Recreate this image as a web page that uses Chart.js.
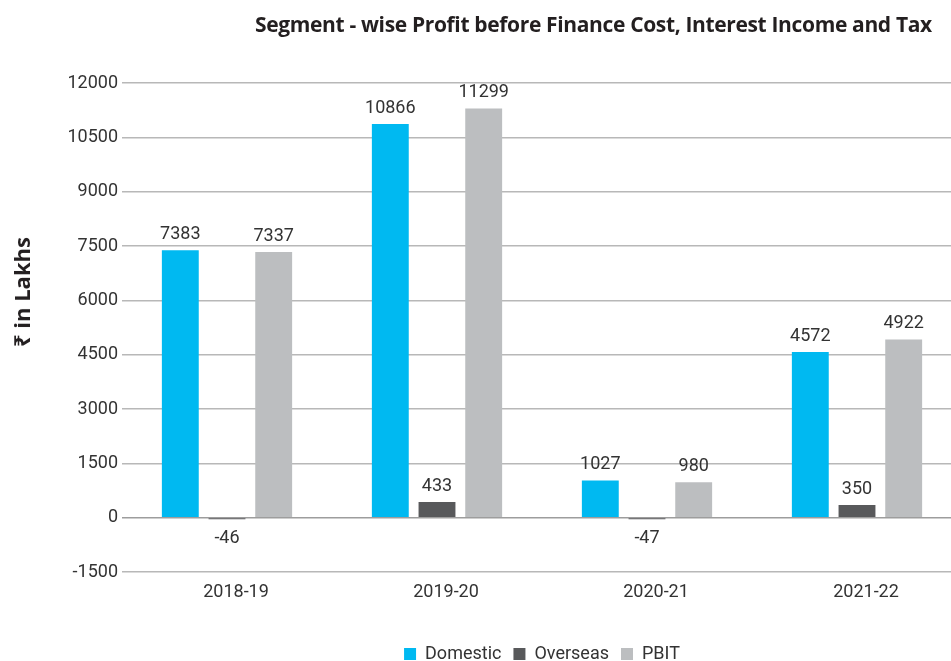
<!DOCTYPE html>
<html>
<head>
<meta charset="utf-8">
<script src="https://cdn.jsdelivr.net/npm/chart.js@4.4.1/dist/chart.umd.min.js"></script>
<style>
  html, body { margin: 0; padding: 0; background: #fff; overflow: hidden; }
  #wrap { position: relative; width: 951px; height: 661px; overflow: hidden; }
  #chartTitle {
    position: absolute; left: 255px; top: 10px;
    font-family: "Open Sans", Roboto, sans-serif; font-weight: bold; font-size: 21px;
    color: #231f20; white-space: nowrap; letter-spacing: -0.35px;
  }
  #yTitle {
    position: absolute; left: 21px; top: 292px;
    transform: translate(-50%, -50%) rotate(-90deg);
    font-family: "Open Sans", "Noto Sans", sans-serif; font-weight: bold; font-size: 22px;
    color: #231f20; white-space: nowrap;
  }
  canvas { position: absolute; left: 0; top: 0; }
</style>
</head>
<body>
<div id="wrap">
  <canvas id="segChart" width="962" height="673"></canvas>
  <div id="chartTitle">Segment - wise Profit before Finance Cost, Interest Income and Tax</div>
  <div id="yTitle">₹ in Lakhs</div>
</div>
<script>
var years = ['2018-19', '2019-20', '2020-21', '2021-22'];
var domestic = [7383, 10866, 1027, 4572];
var overseas = [-46, 433, -47, 350];
var pbit = [7337, 11299, 980, 4922];
var yTicks = [-1500, 0, 1500, 3000, 4500, 6000, 7500, 9000, 10500, 12000];

var textColor = '#333333';
var fontFamily = 'Roboto, "Noto Sans", sans-serif';

// value labels above / below each bar
var valueLabels = {
    id: 'valueLabels',
    afterDatasetsDraw: function (chart) {
        var ctx = chart.ctx;
        ctx.save();
        ctx.font = '18px ' + fontFamily;
        ctx.fillStyle = textColor;
        ctx.textAlign = 'center';
        chart.data.datasets.forEach(function (ds, i) {
            var meta = chart.getDatasetMeta(i);
            meta.data.forEach(function (bar, j) {
                var v = ds.data[j];
                if (v >= 0) {
                    ctx.textBaseline = 'alphabetic';
                    ctx.fillText(v, bar.x, bar.y - 11);
                } else {
                    ctx.textBaseline = 'top';
                    ctx.fillText(v, bar.x, bar.y + 10);
                }
            });
        });
        ctx.restore();
    }
};

var ctx = document.getElementById('segChart').getContext('2d');
var chart = new Chart(ctx, {
    type: 'bar',
    data: {
        labels: years,
        datasets: [{
            label: 'Domestic',
            data: domestic,
            backgroundColor: '#00b9f1'
        }, {
            label: 'Overseas',
            data: overseas,
            backgroundColor: '#58595b'
        }, {
            label: 'PBIT',
            data: pbit,
            backgroundColor: '#bcbec0'
        }]
    },
    options: {
        responsive: false,
        animation: false,
        devicePixelRatio: 1,
        categoryPercentage: 0.667,
        barPercentage: 0.79,
        layout: {
            padding: { top: 83, left: 0, right: 0, bottom: 0 }
        },
        scales: {
            x: {
                grid: { display: false, drawTicks: false },
                border: { display: false },
                ticks: {
                    color: textColor,
                    font: { family: fontFamily, size: 18 },
                    padding: 10,
                    labelOffset: 9,
                    maxRotation: 0
                },
                afterFit: function (scale) { scale.height = 61; }
            },
            y: {
                min: -1500,
                max: 12000,
                afterBuildTicks: function (scale) {
                    scale.ticks = yTicks.map(function (v) { return { value: v }; });
                },
                grid: {
                    drawTicks: false,
                    color: function (c) {
                        return c.tick && c.tick.value === 0 ? '#9d9d9d' : '#b8b8b8';
                    },
                    lineWidth: 1.4
                },
                border: { display: false },
                ticks: {
                    color: textColor,
                    font: { family: fontFamily, size: 18 },
                    padding: 4,
                    callback: function (value) { return String(value); }
                },
                afterFit: function (scale) { scale.width = 122; }
            }
        },
        plugins: {
            legend: {
                position: 'bottom',
                fullSize: false,
                labels: {
                    color: textColor,
                    font: { family: fontFamily, size: 18 },
                    boxWidth: 12,
                    boxHeight: 12,
                    padding: 12
                }
            },
            tooltip: { enabled: false }
        }
    },
    plugins: [valueLabels]
});
</script>
</body>
</html>
